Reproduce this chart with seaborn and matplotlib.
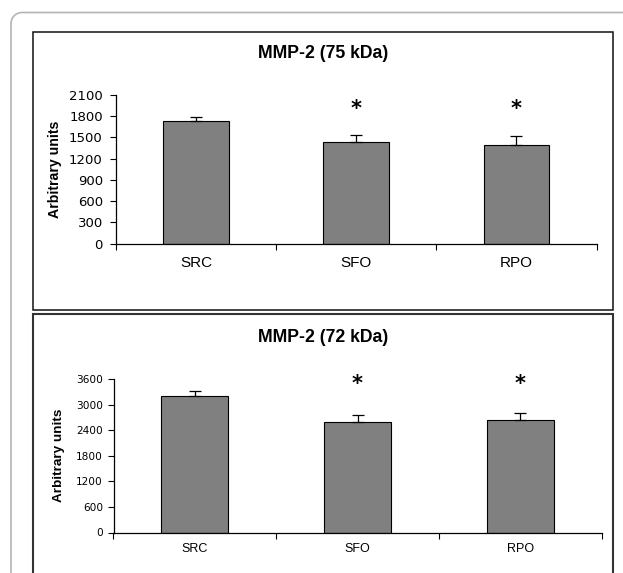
import matplotlib
matplotlib.use("Agg")
import matplotlib.pyplot as plt
from matplotlib.patches import Rectangle
from matplotlib.lines import Line2D
from matplotlib.transforms import IdentityTransform
import numpy as np
import seaborn as sns
import pandas as pd

# ---- data ----
categories = ["SRC", "SFO", "RPO"]
mmp75_values = [1733, 1436, 1394]
mmp75_errors = [55, 100, 127]
mmp72_values = [3200, 2588, 2635]
mmp72_errors = [110, 157, 165]
significance = ["", "*", "*"]
mmp75_ticks = [0, 300, 600, 900, 1200, 1500, 1800, 2100]
mmp72_ticks = [0, 600, 1200, 1800, 2400, 3000, 3600]
titles = ["MMP-2 (75 kDa)", "MMP-2 (72 kDa)"]
ylabel = "Arbitrary units"

W, H = 623, 573
DPI = 100
plt.rcParams["font.family"] = ["Liberation Sans", "DejaVu Sans"]
fig = plt.figure(figsize=(W / DPI, H / DPI), dpi=DPI)
fig.patch.set_facecolor("white")


def box(x0, y0, x1, y1):
    return [x0 / W, 1 - y1 / H, (x1 - x0) / W, (y1 - y0) / H]


# outer rounded frame (display pixel coords, y up): left edge, corner arc, top edge
r = 11
xl, yt = 11, H - 12.5
theta = np.linspace(np.pi, np.pi / 2, 12)
arc_x = list(xl + r + r * np.cos(theta))
arc_y = list(yt - r + r * np.sin(theta))
fx = [xl] + arc_x + [W + 50]
fy = [-20] + arc_y + [yt]
fig.add_artist(Line2D(fx, fy, transform=IdentityTransform(), color="#b4b4b4",
                      linewidth=1.2, solid_joinstyle="round", zorder=0))

# panel boxes
fig.patches.append(Rectangle((32.5 / W, 1 - 310 / H), 580 / W, (310 - 31.7) / H,
                             transform=fig.transFigure, fill=False,
                             edgecolor="#111111", linewidth=1.1))
fig.patches.append(Rectangle((32.5 / W, 1 - 620 / H), 580 / W, (620 - 314.3) / H,
                             transform=fig.transFigure, fill=False,
                             edgecolor="#333333", linewidth=1.5))


def panel(rect, values, errors, ticks, title, title_y, star_y, tick_fs, tick_pad,
          cat_fs, cat_pad, ylab_fs, ylab_pad):
    ax = fig.add_axes(rect)
    df = pd.DataFrame({"cat": categories, "val": values})
    sns.barplot(data=df, x="cat", y="val", color="#808080", saturation=1,
                edgecolor="black", linewidth=0.8, width=0.41, errorbar=None, ax=ax)
    ax.errorbar(range(len(categories)), values,
                yerr=[[0] * len(errors), errors], fmt="none",
                ecolor="black", elinewidth=0.9, capsize=4, capthick=0.9, zorder=3)
    for i, s in enumerate(significance):
        if s:
            ax.text(i, star_y, s, ha="center", va="center", fontsize=15,
                    fontweight="bold", color="black", family="DejaVu Sans")
    ax.set_xlim(-0.5, len(categories) - 0.5)
    ax.set_ylim(ticks[0], ticks[-1])
    ax.set_yticks(ticks)
    ax.set_yticklabels([str(t) for t in ticks], fontsize=tick_fs, family="DejaVu Sans")
    ax.set_xticks(range(len(categories)))
    ax.set_xticklabels(categories, fontsize=cat_fs)
    ax.set_xticks([i - 0.5 for i in range(len(categories) + 1)], minor=True)
    ax.tick_params(axis="x", which="major", length=0, pad=cat_pad)
    ax.tick_params(axis="x", which="minor", length=4, width=0.8, direction="out")
    ax.tick_params(axis="y", length=4, width=0.8, direction="out", pad=tick_pad)
    ax.set_xlabel("")
    ax.set_ylabel(ylabel, fontsize=ylab_fs, fontweight="bold", labelpad=ylab_pad)
    for sp in ["top", "right"]:
        ax.spines[sp].set_visible(False)
    for sp in ["left", "bottom"]:
        ax.spines[sp].set_linewidth(0.9)
    ax.patch.set_alpha(0)
    fig.text(323 / W, 1 - title_y / H, title, ha="center", va="center",
             fontsize=12.7, fontweight="bold")
    return ax


panel(box(116, 95, 596.5, 243.5), mmp75_values, mmp75_errors, mmp75_ticks,
      titles[0], 53, 1908, 9.5, 5.5, 11, 8.8, 10.2, 5)
panel(box(113.5, 379, 601.5, 532.5), mmp72_values, mmp72_errors, mmp72_ticks,
      titles[1], 337, 3483, 7.6, 3.5, 9, 7.5, 9.7, 8)

fig.savefig("out.png", dpi=DPI)
